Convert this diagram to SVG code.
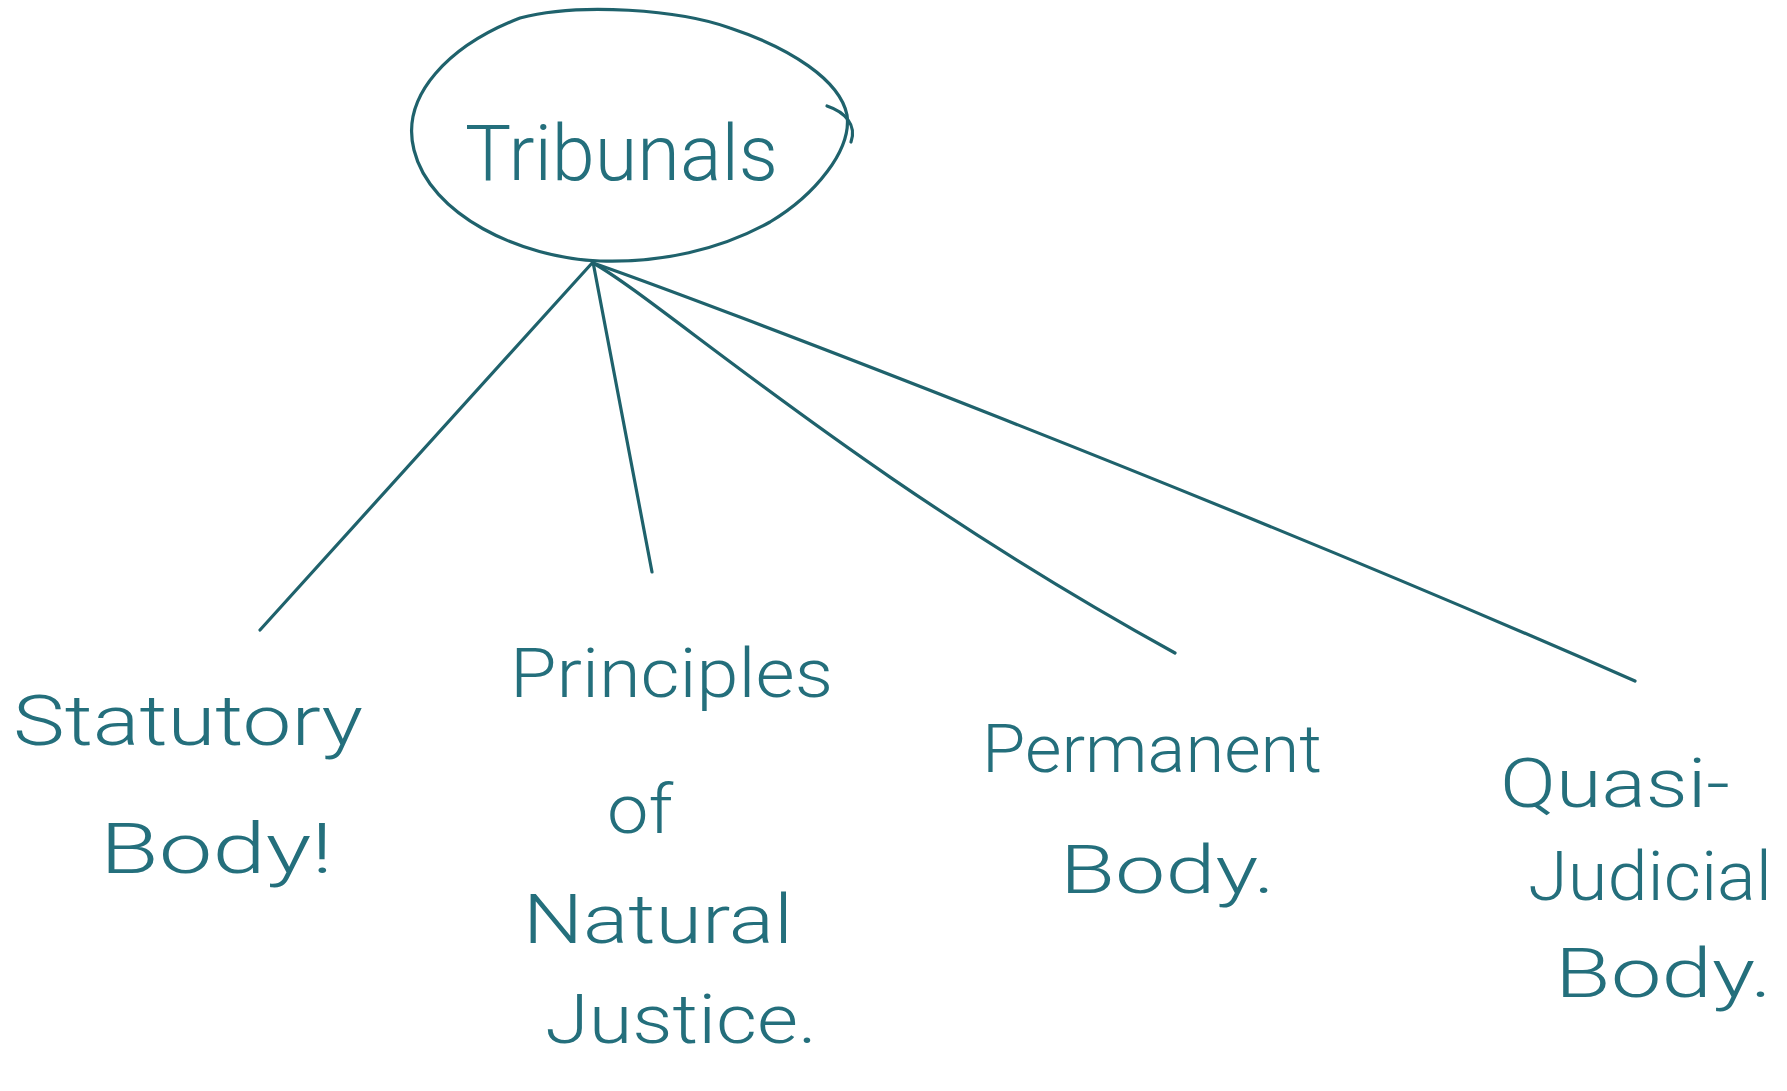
<svg xmlns="http://www.w3.org/2000/svg" width="1787" height="1091" viewBox="0 0 1787 1091">
  <style>
    .ink { fill: none; stroke: #1f626c; stroke-width: 3.2; stroke-linecap: round; stroke-linejoin: round; }
    .hw { font-family: Roboto, "Open Sans", "Liberation Sans", sans-serif; font-weight: 300; fill: #246f7c; }
  </style>
  <rect x="0" y="0" width="1787" height="1091" fill="#ffffff"/>
  <g id="connectors">
    <path class="ink" d="M 593 262 L 260 630"/>
    <path class="ink" d="M 593 262 L 652 572"/>
    <path class="ink" d="M 593 263 C 660 300, 860 480, 1175 653"/>
    <path class="ink" d="M 593 263 C 700 300, 1200 490, 1635 681"/>
  </g>
  <g id="node-tribunals">
    <path class="ink" d="M 600 261 C 520 258, 430 215, 414 150 C 400 95, 450 45, 520 18 C 580 2, 680 10, 730 28 C 790 48, 840 80, 847 115 C 852 150, 815 195, 770 222 C 720 250, 660 263, 600 261 Z"/>
    <path class="ink" d="M 827 106 C 845 112, 857 125, 851 142"/>
    <text class="hw" x="465" y="180" font-size="78" textLength="313" lengthAdjust="spacingAndGlyphs">Tribunals</text>
  </g>
  <g id="node-statutory">
    <text class="hw" x="13" y="745" font-size="70" textLength="350" lengthAdjust="spacingAndGlyphs">Statutory</text>
    <text class="hw" x="100" y="873" font-size="70" textLength="233" lengthAdjust="spacingAndGlyphs">Body!</text>
  </g>
  <g id="node-natural-justice">
    <text class="hw" x="510" y="697" font-size="68" textLength="323" lengthAdjust="spacingAndGlyphs">Principles</text>
    <text class="hw" x="607" y="833" font-size="68" textLength="66" lengthAdjust="spacingAndGlyphs">of</text>
    <text class="hw" x="523" y="943" font-size="68" textLength="270" lengthAdjust="spacingAndGlyphs">Natural</text>
    <text class="hw" x="545" y="1043" font-size="68" textLength="272" lengthAdjust="spacingAndGlyphs">Justice.</text>
  </g>
  <g id="node-permanent">
    <text class="hw" x="982" y="772" font-size="66" textLength="340" lengthAdjust="spacingAndGlyphs">Permanent</text>
    <text class="hw" x="1060" y="893" font-size="66" textLength="215" lengthAdjust="spacingAndGlyphs">Body.</text>
  </g>
  <g id="node-quasi-judicial">
    <text class="hw" x="1500" y="807" font-size="68" textLength="230" lengthAdjust="spacingAndGlyphs">Quasi-</text>
    <text class="hw" x="1528" y="900" font-size="68" textLength="244" lengthAdjust="spacingAndGlyphs">Judicial</text>
    <text class="hw" x="1555" y="997" font-size="68" textLength="217" lengthAdjust="spacingAndGlyphs">Body.</text>
  </g>
</svg>
